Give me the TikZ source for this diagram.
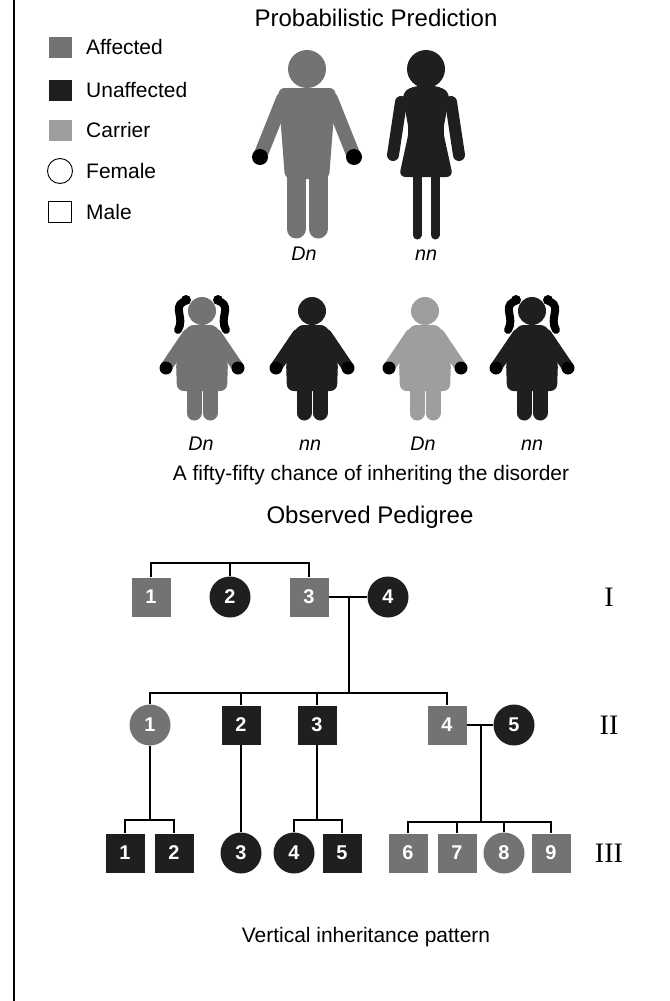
\documentclass[tikz,border=0pt]{standalone}
\usepackage{fontspec}
\setmainfont{Liberation Sans}
\newfontfamily\numeralfont{Liberation Serif}
\usetikzlibrary{calc}
\colorlet{affected}{black!55}
\colorlet{unaffected}{black!88}
\colorlet{carrier}{black!38}
\begin{document}
\begin{tikzpicture}[x=0.3mm,y=-0.3mm,
        txt/.style={font=\fontsize{17.9}{21}\selectfont,inner sep=0pt},
        heading/.style={font=\fontsize{20.5}{24}\selectfont,inner sep=0pt},
        geno/.style={font=\fontsize{16.8}{20}\selectfont\itshape,inner sep=0pt,anchor=base},
        gen/.style={font=\numeralfont\fontsize{24}{28}\selectfont,inner sep=0pt},
        key/.style={rectangle,minimum width=6.9mm,minimum height=6.3mm,inner sep=0pt},
        male/.style={rectangle,minimum size=11.7mm,inner sep=0pt,text=white,
            font=\fontsize{17}{19}\selectfont\bfseries},
        female/.style={circle,minimum size=12.3mm,inner sep=0pt,text=white,
            font=\fontsize{17}{19}\selectfont\bfseries},
        pline/.style={line width=0.6mm},
        pics/man/.style={code={
            \fill[#1] (0,0) circle (19);
            \fill[#1,rounded corners=2mm] (-29,19) -- (29,19) -- (22,110) -- (-22,110) -- cycle;
            \draw[#1,line width=4.2mm,line cap=round] (-24,30) -- (-46,85) (24,30) -- (46,85);
            \draw[#1,line width=5.7mm,line cap=round] (-11,100) -- (-11,160) (11,100) -- (11,160);
            \fill (-47,88) circle (8) (47,88) circle (8);
        }},
        pics/woman/.style={code={
            \fill[#1] (0,0) circle (19);
            \fill[#1,rounded corners=2mm] (-13,17) -- (13,17) -- (24,24) -- (17,62)
                -- (27,108) -- (-27,108) -- (-17,62) -- (-24,24) -- cycle;
            \draw[#1,line width=3.6mm,line cap=round] (-25,33) -- (-33,86) (25,33) -- (33,86);
            \draw[#1,line width=2.7mm,line cap=round] (-9,104) -- (-9,166) (9,104) -- (9,166);
        }},
        pics/child/.style={code={
            \fill[#1] (0,0) circle (14);
            \fill[#1,rounded corners=2mm] (-15,14) -- (15,14) -- (26,50) -- (25,80)
                -- (-25,80) -- (-26,50) -- cycle;
            \draw[#1,line width=3.6mm,line cap=round] (-14,24) -- (-35,55) (14,24) -- (35,55);
            \draw[#1,line width=4.5mm,line cap=round] (-8,74) -- (-8,102) (8,74) -- (8,102);
            \fill (-36,57) circle (6.5) (36,57) circle (6.5);
        }},
        pics/girl/.style={code={
            \pic {child=#1};
            \foreach \s in {-1,1} {
                \fill (\s*16,-11) circle (5);
                \draw[line width=2.4mm,line cap=round] (\s*19,-9) .. controls (\s*29,-3) and (\s*17,7) .. (\s*24,19);
            }
        }}]
    \useasboundingbox (0,0) rectangle (670,1001);
    \draw[line width=0.45mm] (14,0) -- (14,1001);

    % legend
    \foreach \y/\c/\t in {47/affected/Affected,90/unaffected/Unaffected,130/carrier/Carrier} {
        \node[key,fill=\c] (key-\t) at (60,\y) {};
        \node[txt,anchor=west] (lbl-\t) at (86,\y) {\t};
    }
    \node[draw,thick,circle,minimum size=7.5mm,inner sep=0pt] (key-Female) at (60,171) {};
    \node[txt,anchor=west] (lbl-Female) at (86,171) {Female};
    \node[draw,thick,key] (key-Male) at (60,212) {};
    \node[txt,anchor=west] (lbl-Male) at (86,212) {Male};

    % probabilistic prediction
    \node[heading] (pp) at (376,18) {Probabilistic Prediction};
    \pic at (307,69) {man=affected};
    \pic at (426,69) {woman=unaffected};
    \node[geno] (dad) at (304,260) {Dn};
    \node[geno] (mum) at (426,260) {nn};

    \pic at (202,311) {girl=affected};
    \pic at (312,311) {child=unaffected};
    \pic at (425,311) {child=carrier};
    \pic at (532,311) {girl=unaffected};
    \node[geno] (c1) at (201,450) {Dn};
    \node[geno] (c2) at (310,450) {nn};
    \node[geno] (c3) at (423,450) {Dn};
    \node[geno] (c4) at (532,450) {nn};
    \node[txt] (fifty) at (371,475) {A fifty-fifty chance of inheriting the disorder};

    % observed pedigree
    \node[heading] (op) at (370,517) {Observed Pedigree};

    \foreach \n/\x in {1/151,3/309}
        \node[male,fill=affected] (I-\n) at (\x,597) {\n};
    \foreach \n/\x in {2/230,4/388}
        \node[female,fill=unaffected] (I-\n) at (\x,597) {\n};

    \node[female,fill=affected] (II-1) at (150,725) {1};
    \foreach \n/\x in {2/241,3/317}
        \node[male,fill=unaffected] (II-\n) at (\x,725) {\n};
    \node[male,fill=affected] (II-4) at (447,725) {4};
    \node[female,fill=unaffected] (II-5) at (514,725) {5};

    \foreach \n/\x in {1/125,2/174,5/342}
        \node[male,fill=unaffected] (III-\n) at (\x,853) {\n};
    \foreach \n/\x in {3/241,4/294}
        \node[female,fill=unaffected] (III-\n) at (\x,853) {\n};
    \foreach \n/\x in {6/408,7/457,9/551}
        \node[male,fill=affected] (III-\n) at (\x,853) {\n};
    \node[female,fill=affected] (III-8) at (504,853) {8};

    \node[gen] (gen-1) at (609,597) {I};
    \node[gen] (gen-2) at (609,725) {II};
    \node[gen] (gen-3) at (609,853) {III};

    \coordinate (s1) at (230,563);
    \draw[pline] (I-1) |- (s1) -| (I-3);
    \draw[pline] (I-2) -- (I-2 |- s1);
    \draw[pline] (I-3) -- (I-4);
    \coordinate (m1) at ($(I-3)!0.5!(I-4)$);
    \coordinate (s2) at ($(m1)+(0,96)$);
    \draw[pline] (m1) -- (s2);
    \draw[pline] (II-1) |- (s2) -| (II-4);
    \foreach \k in {2,3}
        \draw[pline] (II-\k) -- (II-\k |- s2);

    \coordinate (s3a) at (150,820);
    \draw[pline] (II-1) -- (s3a);
    \draw[pline] (III-1) |- (s3a) -| (III-2);
    \draw[pline] (II-2) -- (III-3);
    \coordinate (s3b) at (317,820);
    \draw[pline] (II-3) -- (s3b);
    \draw[pline] (III-4) |- (s3b) -| (III-5);
    \draw[pline] (II-4) -- (II-5);
    \coordinate (m2) at ($(II-4)!0.5!(II-5)$);
    \coordinate (s3c) at ($(m2)+(0,97)$);
    \draw[pline] (m2) -- (s3c);
    \draw[pline] (III-6) |- (s3c) -| (III-9);
    \foreach \k in {7,8}
        \draw[pline] (III-\k) -- (III-\k |- s3c);

    \node[txt] (vip) at (366,937) {Vertical inheritance pattern};
\end{tikzpicture}
\end{document}
